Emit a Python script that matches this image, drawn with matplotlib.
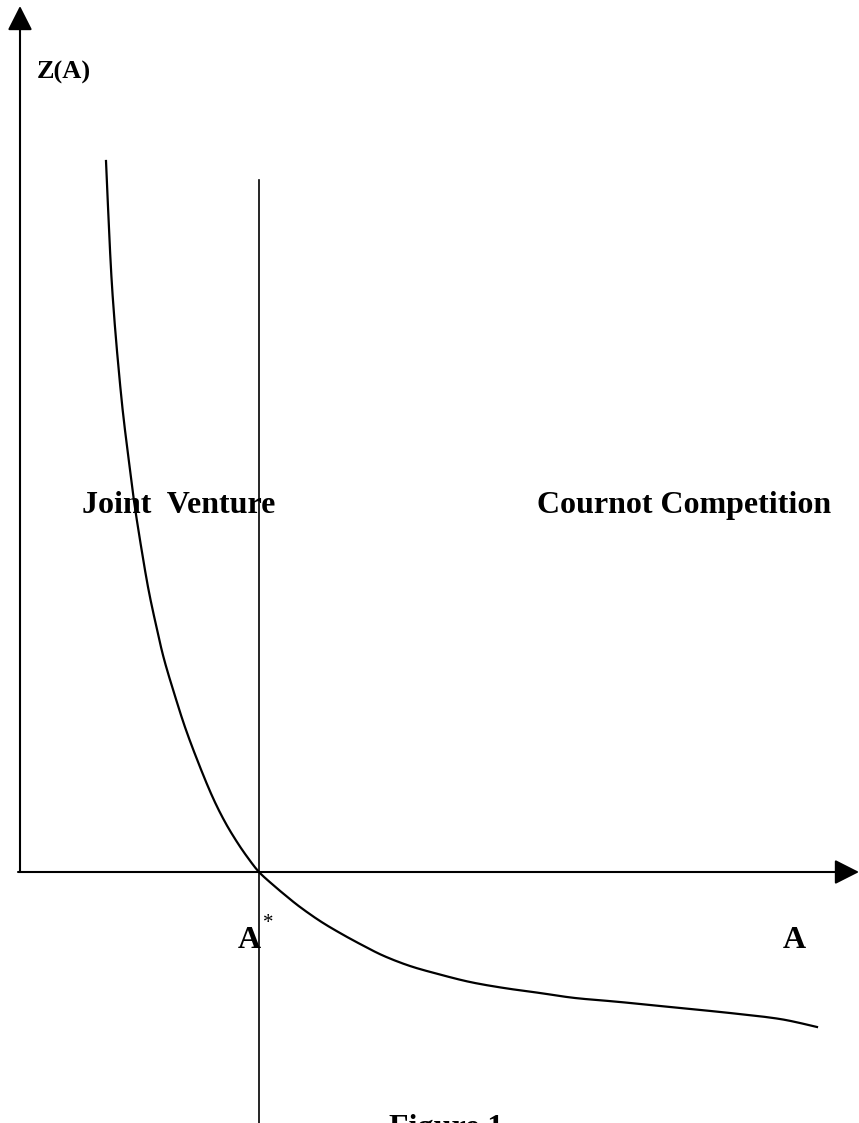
import matplotlib
matplotlib.use("Agg")
import matplotlib.pyplot as plt
import numpy as np

plt.rcParams['font.family'] = ['Liberation Serif', 'DejaVu Serif']

# Z(A) curve (origin at axis crossing, units ~ pixels)
a_vals = [86, 92, 101, 110, 114, 120, 128, 136, 144, 155, 166, 180, 193, 205,
          217, 228, 239, 252, 265, 280, 300, 320, 342, 364, 390, 418, 450, 484,
          520, 555, 600, 660, 710, 760, 797]
z_vals = [711, 586, 478, 402, 371, 332, 285, 247, 213, 176, 142, 105, 74, 50,
          30, 14, 0, -12, -23, -35, -49, -61, -73, -84, -94, -102, -110, -116,
          -121, -126, -130, -136, -141, -147, -155]
a_star = 239


def smooth(xs, ys, n=12):
    # catmull-rom through the read points, only for a smooth stroke
    p = np.column_stack([xs, ys]).astype(float)
    p = np.vstack([p[0], p, p[-1]])
    out = []
    t = np.linspace(0, 1, n, endpoint=False)[:, None]
    for i in range(1, len(p) - 2):
        p0, p1, p2, p3 = p[i - 1], p[i], p[i + 1], p[i + 2]
        seg = 0.5 * ((2 * p1) + (-p0 + p2) * t +
                     (2 * p0 - 5 * p1 + 4 * p2 - p3) * t ** 2 +
                     (-p0 + 3 * p1 - 3 * p2 + p3) * t ** 3)
        out.append(seg)
    out.append(p[-2][None, :])
    out = np.vstack(out)
    return out[:, 0], out[:, 1]


fig = plt.figure(figsize=(8.59, 11.23), dpi=100)
ax = fig.add_axes([0, 0, 1, 1])
ax.set_xlim(-20, 839)
ax.set_ylim(-251, 872)
ax.axis('off')

# axes with arrow heads
arrow = dict(arrowstyle='-|>,head_length=0.75,head_width=0.38', color='black',
             lw=1.5, mutation_scale=20, shrinkA=0, shrinkB=0)
ax.annotate('', xy=(0, 866), xytext=(0, 0), arrowprops=arrow)
ax.annotate('', xy=(839, 0), xytext=(-2, 0), arrowprops=arrow)

# vertical line at A*
ax.plot([a_star, a_star], [-251, 692], color='black', lw=1.2)

sx, sy = smooth(a_vals, z_vals)
ax.plot(sx, sy, color='black', lw=1.6)

bold = dict(fontweight='bold', color='black')
ax.text(17, 800, 'Z(A)', fontsize=19, va='center', ha='left', **bold)
ax.text(62, 359, 'Joint  Venture', fontsize=23, va='baseline', ha='left', **bold)
ax.text(517, 359, 'Cournot Competition', fontsize=23, va='baseline', ha='left', **bold)
ax.text(218, -76, 'A', fontsize=23, va='baseline', ha='left', **bold)
ax.text(243, -52, '*', fontsize=15, va='center', ha='left', color='black')
ax.text(763, -76, 'A', fontsize=23, va='baseline', ha='left', **bold)
ax.text(369, -242, 'Figure 1', fontsize=23, va='top', ha='left', **bold)

fig.savefig('out.png', dpi=100)
